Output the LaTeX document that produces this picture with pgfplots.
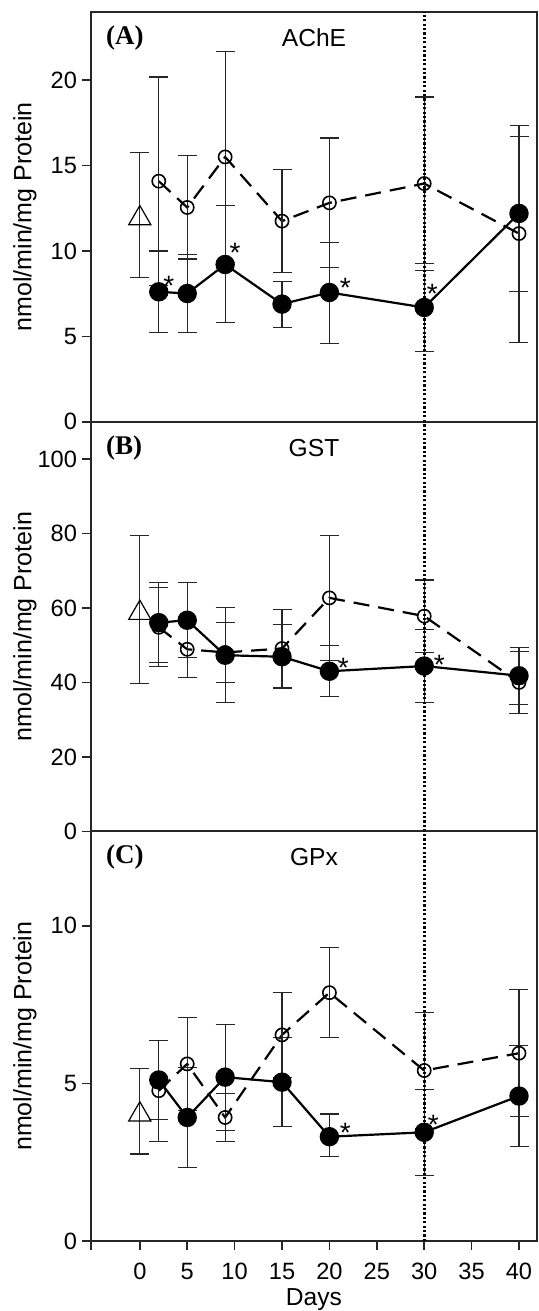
\documentclass[border=0pt]{standalone}
\usepackage{fontspec}
\setmainfont{Liberation Sans}
\newfontfamily\serifbf{Liberation Serif}
\usepackage{pgfplots}
\pgfplotsset{compat=1.18}
\usepackage{pgfplotstable}

% x, mean, error plus, error minus
\pgfplotstableread{
x y ep em
0 12.10 3.67 3.67
}\Actrl
\pgfplotstableread{
x y ep em
2 14.09 6.10 6.10
5 12.55 3.02 3.02
9 15.51 6.19 6.19
15 11.75 3.02 3.02
20 12.82 3.80 3.80
30 13.95 5.07 5.10
40 11.02 6.31 6.38
}\Aopen
\pgfplotstableread{
x y ep em
2 7.61 2.39 2.38
5 7.51 2.30 2.28
9 9.21 3.43 3.40
15 6.89 1.31 1.37
20 7.57 2.91 2.98
30 6.69 2.58 2.59
40 12.20 4.52 4.59
}\Afill
\pgfplotstableread{
x y ep em
0 59.5 19.85 19.85
}\Bctrl
\pgfplotstableread{
x y ep em
2 54.8 10.6 10.6
5 48.9 7.6 7.6
9 48.05 8.05 8.05
15 49.1 10.6 10.6
20 62.7 16.8 16.8
30 57.8 9.7 9.7
40 40.0 8.4 8.4
}\Bopen
\pgfplotstableread{
x y ep em
2 56.05 10.75 10.75
5 56.7 10.1 10.1
9 47.3 12.7 12.7
15 46.9 8.7 8.4
20 43.0 6.8 6.8
30 44.4 9.9 9.9
40 41.8 7.6 7.7
}\Bfill
\pgfplotstableread{
x y ep em
0 4.115 1.355 1.355
}\Cctrl
\pgfplotstableread{
x y ep em
2 4.77 1.60 1.62
5 5.62 1.47 1.47
9 3.92 0.77 0.77
15 6.54 1.35 1.35
20 7.88 1.43 1.43
30 5.41 1.85 1.85
40 5.96 2.01 2.01
}\Copen
\pgfplotstableread{
x y ep em
2 5.11 1.25 1.25
5 3.92 1.59 1.59
9 5.20 1.68 1.68
15 5.04 1.41 1.41
20 3.31 0.72 0.63
30 3.45 1.36 1.36
40 4.60 1.60 1.60
}\Cfill

\pgfplotsset{
  panel/.style={
    scale only axis, width=223pt, height=204.85pt,
    xmin=-5.15, xmax=41.9,
    axis line style={line width=0.9pt, black!85},
    tick style={line width=0.8pt, black!85},
    tick align=outside, major tick length=4.5pt,
    ytick pos=left, xtick pos=bottom,
    ticklabel style={font=\fontsize{11.8}{13}\selectfont},
    yticklabel style={xshift=1pt},
    /pgf/number format/assume math mode=true,
  },
  ebar/.style={error bars/.cd, y dir=both, y explicit,
    error bar style={solid, line width=0.55pt, black!85},
    error mark options={solid, rotate=90, mark size=4.75pt, line width=0.55pt, black!85}},
  openser/.style={black, line width=1.1pt, dash pattern=on 8pt off 4.5pt,
    mark=o, mark size=3.3pt, mark options={solid, line width=0.8pt}, ebar},
  fillser/.style={black, line width=1.1pt, mark=*, mark size=4.3pt,
    mark options={solid}, ebar},
  ctrlser/.style={black, only marks, mark=triangle, mark size=6.4pt,
    mark options={solid, line width=0.6pt, yshift=-1.6pt}, ebar},
  vline/.style={black, line width=1.3pt, dash pattern=on 1.1pt off 1.1pt, mark=none},
}
\tikzset{
  ast/.style={font=\fontsize{14}{14}\selectfont, anchor=base},
  ptitle/.style={font=\fontsize{12.3}{14}\selectfont, yshift=-13pt},
  plabel/.style={anchor=west, font=\fontsize{13.5}{15}\selectfont\serifbf\bfseries, xshift=4pt, yshift=-13pt},
}

\begin{document}
\begin{tikzpicture}
\path[use as bounding box] (0,0) rectangle (269pt,-655.5pt);

% (A) AChE
\begin{axis}[panel, name=A, at={(45.5pt,-210.85pt)}, anchor=south west,
  ymin=0, ymax=24, ytick={0,5,10,15,20}, xtick=\empty]
\addplot[openser] table[x=x, y=y, y error plus=ep, y error minus=em] {\Aopen};
\addplot[fillser] table[x=x, y=y, y error plus=ep, y error minus=em] {\Afill};
\addplot[ctrlser] table[x=x, y=y, y error plus=ep, y error minus=em] {\Actrl};
\addplot[vline] coordinates {(30,0) (30,24)};
\node[ast, xshift=5pt, yshift=-2pt] at (axis cs:2,7.61) {*};
\node[ast, xshift=5pt, yshift=1pt] at (axis cs:9,9.21) {*};
\node[ast, xshift=8pt, yshift=-2.5pt] at (axis cs:20,7.57) {*};
\node[ast, xshift=4pt, yshift=2pt] at (axis cs:30,6.69) {*};
\node[ptitle] at (rel axis cs:0.5,1) {AChE};
\node[plabel] at (rel axis cs:0,1) {(A)};
\end{axis}

% (B) GST
\begin{axis}[panel, name=B, at={(45.5pt,-415.7pt)}, anchor=south west,
  ymin=0, ymax=110, ytick={0,20,40,60,80,100}, xtick=\empty]
\addplot[openser] table[x=x, y=y, y error plus=ep, y error minus=em] {\Bopen};
\addplot[fillser] table[x=x, y=y, y error plus=ep, y error minus=em] {\Bfill};
\addplot[ctrlser] table[x=x, y=y, y error plus=ep, y error minus=em] {\Bctrl};
\addplot[vline] coordinates {(30,0) (30,110)};
\node[ast, xshift=7pt, yshift=-3pt] at (axis cs:20,43.0) {*};
\node[ast, xshift=7.5pt, yshift=-4pt] at (axis cs:30,44.4) {*};
\node[ptitle] at (rel axis cs:0.5,1) {GST};
\node[plabel] at (rel axis cs:0,1) {(B)};
\end{axis}

% (C) GPx
\begin{axis}[panel, name=C, at={(45.5pt,-620.5pt)}, anchor=south west,
  ymin=0, ymax=13, ytick={0,5,10},
  xtick={0,5,10,15,20,25,30,35,40},
  extra x ticks={-5.15}, extra x tick labels={},
  xticklabel style={yshift=-3pt}]
\addplot[openser] table[x=x, y=y, y error plus=ep, y error minus=em] {\Copen};
\addplot[fillser] table[x=x, y=y, y error plus=ep, y error minus=em] {\Cfill};
\addplot[ctrlser] table[x=x, y=y, y error plus=ep, y error minus=em] {\Cctrl};
\addplot[vline] coordinates {(30,0) (30,13)};
\node[ast, xshift=8pt, yshift=-3pt] at (axis cs:20,3.31) {*};
\node[ast, xshift=4.5pt, yshift=-1pt] at (axis cs:30,3.45) {*};
\node[ptitle] at (rel axis cs:0.5,1) {GPx};
\node[plabel] at (rel axis cs:0,1) {(C)};
\end{axis}

\foreach \ax in {A,B,C}{
  \node[rotate=90, font=\fontsize{12.5}{14}\selectfont] at ([xshift=-33pt]\ax.west) {nmol/min/mg Protein};
}
\node[anchor=north, inner sep=0pt, font=\fontsize{12.3}{14}\selectfont] at ([yshift=-23.5pt]C.south) {Days};
\end{tikzpicture}
\end{document}
